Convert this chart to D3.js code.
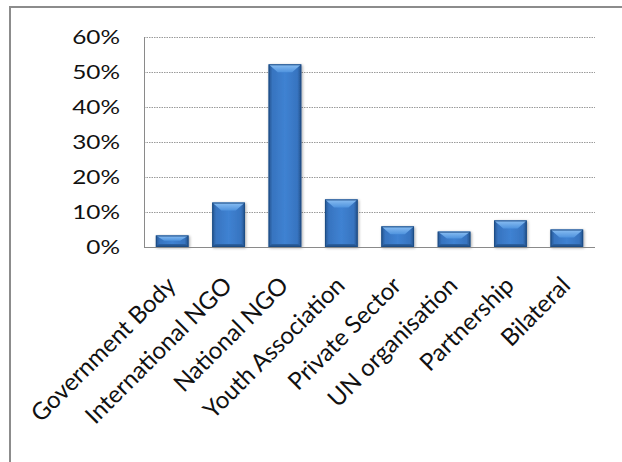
<!DOCTYPE html>
<html>
<head>
<meta charset="utf-8">
<script src="https://cdn.jsdelivr.net/npm/d3@7"></script>
<style>
  html, body { margin: 0; padding: 0; background: #fff; }
  svg { display: block; }
  text { font-family: Lato, "Open Sans", "Liberation Sans", sans-serif; fill: #111; }
</style>
</head>
<body>
<svg id="chart" width="622" height="462"></svg>
<script>
// Share of projects by type of implementing organisation
const categories = ["Government Body", "International NGO", "National NGO", "Youth Association",
                    "Private Sector", "UN organisation", "Partnership", "Bilateral"];
const shares = [0.033, 0.127, 0.522, 0.136, 0.059, 0.044, 0.076, 0.050];
const yTicks = [0, 0.1, 0.2, 0.3, 0.4, 0.5, 0.6];

const svg = d3.select("#chart");
const W = 622, H = 462;
const plot = { left: 144, right: 595, top: 37, bottom: 247 };
const tickStretch = 1.22; // percentage labels are set wide

// outer chart frame (top and left edges show inside the window)
svg.append("rect")
  .attr("x", 10).attr("y", 7).attr("width", W + 20).attr("height", H + 20)
  .attr("fill", "#fff").attr("stroke", "#8c8c8c").attr("stroke-width", 2);

const x = d3.scaleBand().domain(categories).range([plot.left, plot.right]).paddingInner(0.42).paddingOuter(0.21);
const y = d3.scaleLinear().domain([0, 0.6]).range([plot.bottom, plot.top]);

// gradients for the bevelled bars
const defs = svg.append("defs");
const side = defs.append("linearGradient").attr("id", "barSide").attr("x1", 0).attr("x2", 1).attr("y1", 0).attr("y2", 0);
[["0%", "#25558f"], ["12%", "#3774c0"], ["50%", "#3f82d2"], ["88%", "#3774c0"], ["100%", "#24528a"]]
  .forEach(([o, c]) => side.append("stop").attr("offset", o).attr("stop-color", c));
const topG = defs.append("linearGradient").attr("id", "barTop").attr("x1", 0).attr("x2", 0).attr("y1", 0).attr("y2", 1);
[["0%", "#8cc0f3"], ["100%", "#4f93de"]]
  .forEach(([o, c]) => topG.append("stop").attr("offset", o).attr("stop-color", c));
const botG = defs.append("linearGradient").attr("id", "barBot").attr("x1", 0).attr("x2", 0).attr("y1", 0).attr("y2", 1);
[["0%", "#2c62a4"], ["100%", "#1f4a7e"]]
  .forEach(([o, c]) => botG.append("stop").attr("offset", o).attr("stop-color", c));
const shadow = defs.append("filter").attr("id", "shadow").attr("x", "-20%").attr("y", "-20%").attr("width", "140%").attr("height", "140%");
shadow.append("feGaussianBlur").attr("in", "SourceAlpha").attr("stdDeviation", 1.6);
shadow.append("feOffset").attr("dx", 1).attr("dy", 1).attr("result", "b");
shadow.append("feComponentTransfer").append("feFuncA").attr("type", "linear").attr("slope", 0.35);
const merge = shadow.append("feMerge");
merge.append("feMergeNode");
merge.append("feMergeNode").attr("in", "SourceGraphic");

// dotted gridlines
svg.append("g").selectAll("line")
  .data(yTicks.filter(d => d > 0))
  .join("line")
  .attr("x1", plot.left).attr("x2", plot.right)
  .attr("y1", d => Math.round(y(d)) + 0.5).attr("y2", d => Math.round(y(d)) + 0.5)
  .attr("stroke", "#9a9a9a").attr("stroke-width", 1).attr("stroke-dasharray", "1.5,1");

// y axis labels
const yAxis = svg.append("g").attr("transform", `translate(${plot.left},0)`)
  .call(d3.axisLeft(y).tickValues(yTicks).tickFormat(d3.format(".0%")).tickSize(0));
yAxis.select(".domain").remove();
yAxis.selectAll("text")
  .style("font-size", "20px")
  .attr("x", 0)
  .attr("transform", `translate(-24,0) scale(${tickStretch},1)`);

// bars
const bars = svg.append("g").selectAll("g.bar").data(categories.map((c, i) => ({ c, v: shares[i] })))
  .join("g").attr("class", "bar").attr("filter", "url(#shadow)");
bars.each(function (d) {
  const g = d3.select(this);
  const x0 = x(d.c), w = x.bandwidth(), x1 = x0 + w;
  const yt = y(d.v), yb = y(0);
  const h = yb - yt;
  const bev = Math.min(8, h / 2.2);
  const inset = Math.min(w * 0.28, bev * 1.6);
  g.append("rect").attr("x", x0).attr("y", yt).attr("width", w).attr("height", h).attr("fill", "url(#barSide)");
  g.append("path")
    .attr("d", `M${x0},${yt}L${x1},${yt}L${x1 - inset},${yt + bev}L${x0 + inset},${yt + bev}Z`)
    .attr("fill", "url(#barTop)");
  const bb = Math.min(3, h / 4);
  g.append("path")
    .attr("d", `M${x0},${yb}L${x1},${yb}L${x1 - bb},${yb - bb}L${x0 + bb},${yb - bb}Z`)
    .attr("fill", "url(#barBot)");
  g.append("rect").attr("x", x0 + 0.5).attr("y", yt + 0.5).attr("width", w - 1).attr("height", h - 1)
    .attr("fill", "none").attr("stroke", "#1e4d86").attr("stroke-width", 1);
});

// axis lines
svg.append("line").attr("x1", plot.left + 0.5).attr("x2", plot.left + 0.5).attr("y1", plot.top).attr("y2", plot.bottom)
  .attr("stroke", "#8a8a8a").attr("stroke-width", 1);
svg.append("line").attr("x1", plot.left).attr("x2", plot.right).attr("y1", plot.bottom + 0.5).attr("y2", plot.bottom + 0.5)
  .attr("stroke", "#8a8a8a").attr("stroke-width", 1);

// rotated category labels
const xAxis = svg.append("g").attr("transform", `translate(0,${plot.bottom})`)
  .call(d3.axisBottom(x).tickSize(0).tickPadding(0));
xAxis.select(".domain").remove();
xAxis.selectAll("text")
  .style("font-size", "24px")
  .attr("text-anchor", "end")
  .attr("y", 0)
  .attr("dy", 0)
  .attr("transform", "translate(5,40) rotate(-45)");
</script>
</body>
</html>
